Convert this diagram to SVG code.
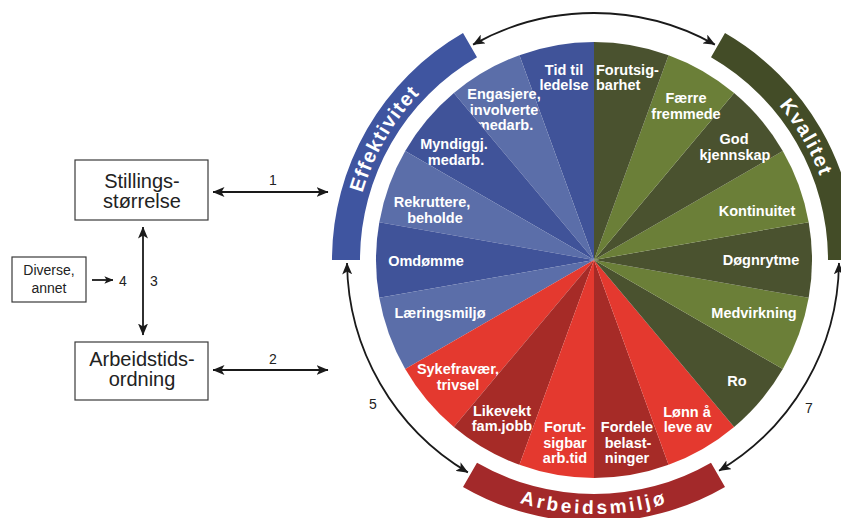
<svg xmlns="http://www.w3.org/2000/svg" width="841" height="518" viewBox="0 0 841 518">
<style>
.bd{fill:#405399}.bl{fill:#5b6ea9}.gd{fill:#4a522f}.gl{fill:#6b7f38}.rb{fill:#e4392f}.rd{fill:#a62b27}
.st{font-family:"Liberation Sans",Arial,sans-serif;font-weight:bold;font-size:14.5px;fill:#fff;text-anchor:middle}
.bt{font-family:"Liberation Sans",Arial,sans-serif;font-weight:bold;font-size:20px;fill:#fff;text-anchor:middle}
.box{fill:#fff;stroke:#3a3a3a;stroke-width:1.2}
.bx{font-family:"Liberation Sans",Arial,sans-serif;font-size:20px;fill:#222;text-anchor:middle}
.num{font-family:"Liberation Sans",Arial,sans-serif;font-size:14px;fill:#222;text-anchor:middle}
.ln{fill:none;stroke:#1a1a1a;stroke-width:1.8}
</style>
<defs>
<marker id="ah" viewBox="0 0 12 10" refX="11.5" refY="5" markerWidth="12" markerHeight="10" markerUnits="userSpaceOnUse" orient="auto-start-reverse">
<path d="M0,0 L12,5 L0,10 L3,5 Z" fill="#1a1a1a"/>
</marker>
<marker id="ahs" viewBox="0 0 12 10" refX="11.5" refY="5" markerWidth="9" markerHeight="7.5" markerUnits="userSpaceOnUse" orient="auto">
<path d="M0,0 L12,5 L0,10 L3,5 Z" fill="#1a1a1a"/>
</marker>
<path id="pEff" d="M353,260 A241,241 0 0 1 473.5,51.29"/>
<path id="pKva" d="M714.5,51.29 A241,241 0 0 1 835,260"/>
<path id="pArb" d="M467,479.97 A254,254 0 0 0 721,479.97"/>
</defs>
<rect width="841" height="518" fill="#fff"/>

<g id="wheel">
<g id="s-tid"><path class="bd" d="M594,260 L594,42 A218,218 0 0 0 519.44,55.15 Z"/><text class="st" x="564" y="74.5">Tid til</text><text class="st" x="564" y="90">ledelse</text></g>
<g id="s-eng"><path class="bl" d="M594,260 L519.44,55.15 A218,218 0 0 0 453.87,93 Z"/><text class="st" x="504" y="98.5">Engasjere,</text><text class="st" x="504" y="114.5">involverte</text><text class="st" x="505" y="130">medarb.</text></g>
<g id="s-myn"><path class="bd" d="M594,260 L453.87,93 A218,218 0 0 0 405.21,151 Z"/><text class="st" x="454" y="149">Myndiggj.</text><text class="st" x="456" y="165">medarb.</text></g>
<g id="s-rek"><path class="bl" d="M594,260 L405.21,151 A218,218 0 0 0 379.31,222.14 Z"/><text class="st" x="432" y="207">Rekruttere,</text><text class="st" x="435" y="223">beholde</text></g>
<g id="s-omd"><path class="bd" d="M594,260 L379.31,222.14 A218,218 0 0 0 379.31,297.86 Z"/><text class="st" x="426" y="266">Omdømme</text></g>
<g id="s-lar"><path class="bl" d="M594,260 L379.31,297.86 A218,218 0 0 0 405.21,369 Z"/><text class="st" x="440" y="318">Læringsmiljø</text></g>
<g id="s-syk"><path class="rb" d="M594,260 L405.21,369 A218,218 0 0 0 453.87,427 Z"/><text class="st" x="458" y="373.5">Sykefravær,</text><text class="st" x="458" y="389.5">trivsel</text></g>
<g id="s-lik"><path class="rd" d="M594,260 L453.87,427 A218,218 0 0 0 519.44,464.85 Z"/><text class="st" x="502" y="415.5">Likevekt</text><text class="st" x="502" y="431">fam.jobb</text></g>
<g id="s-fab"><path class="rb" d="M594,260 L519.44,464.85 A218,218 0 0 0 594,478 Z"/><text class="st" x="565" y="432">Forut-</text><text class="st" x="565" y="447.5">sigbar</text><text class="st" x="565" y="463">arb.tid</text></g>
<g id="s-ford"><path class="rd" d="M594,260 L594,478 A218,218 0 0 0 668.56,464.85 Z"/><text class="st" x="627" y="432">Fordele</text><text class="st" x="628" y="447.5">belast-</text><text class="st" x="627" y="463">ninger</text></g>
<g id="s-lonn"><path class="rb" d="M594,260 L668.56,464.85 A218,218 0 0 0 734.13,427 Z"/><text class="st" x="687" y="416.5">Lønn å</text><text class="st" x="688" y="432">leve av</text></g>
<g id="s-ro"><path class="gd" d="M594,260 L734.13,427 A218,218 0 0 0 782.79,369 Z"/><text class="st" x="737" y="386">Ro</text></g>
<g id="s-med"><path class="gl" d="M594,260 L782.79,369 A218,218 0 0 0 808.69,297.86 Z"/><text class="st" x="754" y="318">Medvirkning</text></g>
<g id="s-dog"><path class="gd" d="M594,260 L808.69,297.86 A218,218 0 0 0 808.69,222.14 Z"/><text class="st" x="761" y="265">Døgnrytme</text></g>
<g id="s-kon"><path class="gl" d="M594,260 L808.69,222.14 A218,218 0 0 0 782.79,151 Z"/><text class="st" x="757" y="216">Kontinuitet</text></g>
<g id="s-god"><path class="gd" d="M594,260 L782.79,151 A218,218 0 0 0 734.13,93 Z"/><text class="st" x="734" y="144">God</text><text class="st" x="735" y="159.5">kjennskap</text></g>
<g id="s-fae"><path class="gl" d="M594,260 L734.13,93 A218,218 0 0 0 668.56,55.15 Z"/><text class="st" x="686" y="103">Færre</text><text class="st" x="686" y="118.5">fremmede</text></g>
<g id="s-for"><path class="gd" d="M594,260 L668.56,55.15 A218,218 0 0 0 594,42 Z"/><text class="st" x="596" y="74.5" style="text-anchor:start">Forutsig-</text><text class="st" x="596" y="90" style="text-anchor:start">barhet</text></g>
</g>

<g id="band-effektivitet">
<path fill="#3f55a0" d="M332,260 A262,262 0 0 1 463,33.1 L477,57.35 A234,234 0 0 0 360,260 Z"/>
<text class="bt" letter-spacing="1.2"><textPath href="#pEff" startOffset="50%">Effektivitet</textPath></text>
</g>
<g id="band-kvalitet">
<path fill="#434c27" d="M725,33.1 A262,262 0 0 1 856,260 L828,260 A234,234 0 0 0 711,57.35 Z"/>
<text class="bt" letter-spacing="1.4"><textPath href="#pKva" startOffset="50%">Kvalitet</textPath></text>
</g>
<g id="band-arbeidsmiljo">
<path fill="#a3292a" d="M463,486.9 A262,262 0 0 0 725,486.9 L711,462.65 A234,234 0 0 1 477,462.65 Z"/>
<text class="bt" style="font-size:19px" letter-spacing="3"><textPath href="#pArb" startOffset="50%">Arbeidsmiljø</textPath></text>
</g>

<g id="stillingsstorrelse">
<rect class="box" x="75" y="160" width="133" height="60"/>
<text class="bx" x="142" y="187.5">Stillings-</text>
<text class="bx" x="142" y="207.5">størrelse</text>
</g>
<g id="arbeidstidsordning">
<rect class="box" x="75" y="342" width="133" height="58"/>
<text class="bx" x="142" y="366">Arbeidstids-</text>
<text class="bx" x="142" y="386">ordning</text>
</g>
<g id="diverse">
<rect class="box" x="12" y="257" width="74" height="45"/>
<text class="num" x="49" y="275">Diverse,</text>
<text class="num" x="49" y="293">annet</text>
</g>

<g id="connectors">
<path class="ln" d="M473.12,44.6 A247,247 0 0 1 714.88,44.6" marker-start="url(#ah)" marker-end="url(#ah)"/>
<path class="ln" d="M347.02,263.02 A247,247 0 0 0 467.88,472.38" marker-start="url(#ah)" marker-end="url(#ah)"/>
<path class="ln" d="M838.98,263 A245,245 0 0 1 719.1,470.66" marker-start="url(#ah)" marker-end="url(#ah)"/>
<path class="ln" d="M213,192 L328,192" marker-start="url(#ah)" marker-end="url(#ah)"/>
<path class="ln" d="M213,370 L328,370" marker-start="url(#ah)" marker-end="url(#ah)"/>
<path class="ln" d="M143,227 L143,335" marker-start="url(#ah)" marker-end="url(#ah)"/>
<path class="ln" d="M92,280 L113,280" marker-end="url(#ahs)"/>
<text class="num" x="273" y="185">1</text>
<text class="num" x="273" y="364">2</text>
<text class="num" x="154" y="286">3</text>
<text class="num" x="123" y="286">4</text>
<text class="num" x="373" y="409">5</text>
<text class="num" x="809" y="413">7</text>
</g>
</svg>
